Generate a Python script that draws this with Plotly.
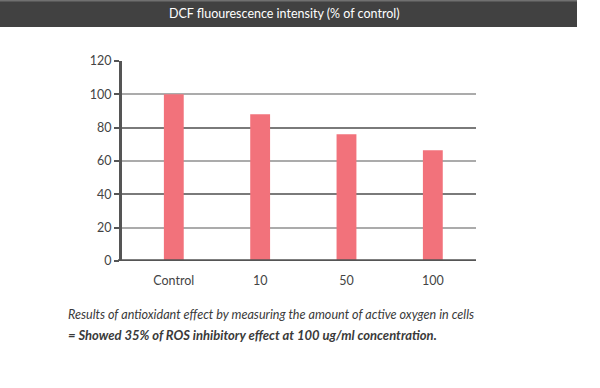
import plotly.graph_objects as go

categories = ["Control", "10", "50", "100"]
values = [100, 88, 76, 66.5]
dark_ticks = [0, 40, 80, 120]
light_ticks = [20, 60, 100]
title_text = "DCF fluourescence intensity (% of control)"
caption1 = "Results of antioxidant effect by measuring the amount of active oxygen in cells"
caption2 = "= Showed 35% of ROS inhibitory effect at 100 ug/ml concentration."

W, H = 600, 388
L, R, T, B = 122, 124, 61, 127
plot_w = W - L - R
plot_h = H - T - B

def px_x(x):
    return (x - L) / plot_w

def px_y(y):
    return (H - B - y) / plot_h

fig = go.Figure()
fig.add_trace(go.Scatter(x=[0], y=[0], yaxis="y2", mode="markers",
                         marker=dict(opacity=0), showlegend=False, hoverinfo="skip"))
fig.add_trace(go.Scatter(x=[0], y=[0], yaxis="y3", mode="markers",
                         marker=dict(opacity=0), showlegend=False, hoverinfo="skip"))
fig.add_trace(go.Bar(x=list(range(len(categories))), y=values, width=0.23,
                     marker=dict(color="#f2727b", line=dict(width=0)), hoverinfo="skip"))

fig.update_layout(
    width=W, height=H,
    margin=dict(l=L, r=R, t=T, b=B),
    paper_bgcolor="white", plot_bgcolor="white",
    showlegend=False,
    font=dict(family="Lato", color="#444", size=13),
    xaxis=dict(range=[-0.6, 3.5], tickvals=list(range(len(categories))),
               ticktext=categories, showgrid=False, zeroline=False,
               showline=False, ticks="", ticklabelstandoff=10,
               tickfont=dict(size=12.5, color="#444")),
    yaxis=dict(range=[0, 120], tickvals=dark_ticks + light_ticks,
               showgrid=False, zeroline=False,
               showline=True, linecolor="#555", linewidth=3,
               ticks="outside", ticklen=5, tickwidth=2, tickcolor="#555",
               tickfont=dict(size=12.5, color="#444")),
    yaxis2=dict(range=[0, 120], overlaying="y", tickvals=light_ticks,
                showgrid=True, gridcolor="#ababab", gridwidth=1.5,
                showticklabels=False, zeroline=False, showline=False),
    yaxis3=dict(range=[0, 120], overlaying="y", tickvals=dark_ticks[1:],
                showgrid=True, gridcolor="#7a7a7a", gridwidth=1.5,
                showticklabels=False, zeroline=False, showline=False),
)

# bottom baseline extending a bit left of the y axis
fig.add_shape(type="line", xref="paper", yref="y", x0=px_x(118), x1=1, y0=0, y1=0,
              line=dict(color="#555", width=3.5))

# title bar
fig.add_shape(type="rect", xref="paper", yref="paper",
              x0=px_x(0), x1=px_x(577), y0=px_y(27), y1=px_y(0),
              fillcolor="#414141", line=dict(width=0), layer="above")
fig.add_shape(type="rect", xref="paper", yref="paper",
              x0=px_x(0), x1=px_x(577), y0=px_y(1.5), y1=px_y(0),
              fillcolor="#707070", line=dict(width=0), layer="above")
fig.add_annotation(text=title_text, xref="paper", yref="paper",
                   x=px_x(284.5), y=px_y(14),
                   showarrow=False, xanchor="center", yanchor="middle",
                   font=dict(family="Lato", size=12.5, color="white"))

fig.add_annotation(text="<i>" + caption1 + "</i>", xref="paper", yref="paper",
                   x=px_x(66), y=px_y(314),
                   showarrow=False, xanchor="left", yanchor="middle",
                   font=dict(family="Lato", size=12.6, color="#3a3a3a"))
fig.add_annotation(text="<b><i>" + caption2 + "</i></b>", xref="paper", yref="paper",
                   x=px_x(66), y=px_y(335),
                   showarrow=False, xanchor="left", yanchor="middle",
                   font=dict(family="Lato", size=13, color="#3a3a3a"))

fig.write_html("out.html", config={"displayModeBar": False},
               post_script="document.body.style.margin='0';document.body.style.padding='0';")
